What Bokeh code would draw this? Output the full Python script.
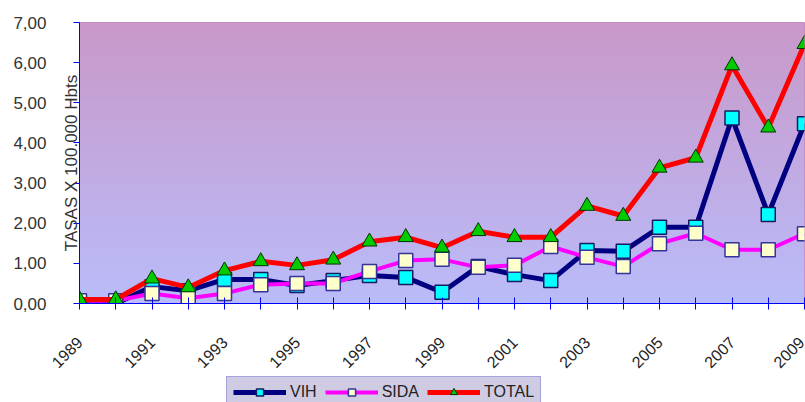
import numpy as np
from bokeh.plotting import figure
from bokeh.layouts import column
from bokeh.models import Range1d, FixedTicker, LinearAxis, Legend, LegendItem
from bokeh.embed import file_html
from bokeh.resources import INLINE

years = list(range(1989, 2010))
vih = [0.0, 0.0, 0.42, 0.32, 0.60, 0.60, 0.45, 0.57, 0.70, 0.65, 0.28, 0.92,
       0.72, 0.57, 1.32, 1.30, 1.90, 1.90, 4.62, 2.22, 4.48]
sida = [0.07, 0.07, 0.25, 0.13, 0.25, 0.47, 0.50, 0.50, 0.80, 1.07, 1.10, 0.90,
        0.95, 1.42, 1.15, 0.92, 1.49, 1.75, 1.34, 1.34, 1.74]
total = [0.10, 0.10, 0.62, 0.40, 0.82, 1.05, 0.95, 1.09, 1.54, 1.65, 1.39, 1.80,
         1.65, 1.65, 2.43, 2.18, 3.38, 3.63, 5.93, 4.38, 6.46]
x_tick_labels = {y: (str(y) if (y - years[0]) % 2 == 0 else "") for y in years}
y_ticks = [0, 1, 2, 3, 4, 5, 6, 7]
y_tick_labels = ["0,00", "1,00", "2,00", "3,00", "4,00", "5,00", "6,00", "7,00"]
y_title = "TASAS X 100.000 Hbts"
names = ["VIH", "SIDA", "TOTAL"]

FONT = "Liberation Sans"
W = 805
LEFT, RIGHT, TOP = 79, 1, 22
H_LEG = 28

p = figure(frame_width=W - LEFT - RIGHT, frame_height=281, output_backend="svg", toolbar_location=None,
           x_range=Range1d(years[0], years[-1]), y_range=Range1d(y_ticks[0], y_ticks[-1]),
           min_border_left=LEFT, min_border_right=RIGHT, min_border_top=TOP, min_border_bottom=0)
p.background_fill_color = "white"
p.border_fill_color = "white"
p.outline_line_color = "#c08ac0"

# gradient background
n = 64
top = np.array([0xC9, 0x99, 0xC9], dtype=float)
bot = np.array([0xBA, 0xBC, 0xFA], dtype=float)
img = np.empty((n, 1), dtype=np.uint32)
view = img.view(dtype=np.uint8).reshape((n, 1, 4))
for i in range(n):
    t = i / (n - 1)
    c = bot * (1 - t) + top * t
    view[i, 0, 0] = int(c[0]); view[i, 0, 1] = int(c[1]); view[i, 0, 2] = int(c[2]); view[i, 0, 3] = 255
p.image_rgba(image=[img], x=years[0], y=y_ticks[0], dw=years[-1] - years[0], dh=y_ticks[-1] - y_ticks[0])

# grid
p.xgrid.grid_line_color = None
p.ygrid.ticker = FixedTicker(ticks=y_ticks[1:-1])
p.ygrid.grid_line_color = "#222222"
p.ygrid.grid_line_dash = "3 2"
p.ygrid.grid_line_width = 1

# series
line_styles = [dict(line_color="#000080", line_width=5),
               dict(line_color="#FF00FF", line_width=4),
               dict(line_color="#FF0000", line_width=5)]
marker_styles = [dict(marker="square", size=14, fill_color="#00FFFF", line_color="#1a1a60", line_width=1.5),
                 dict(marker="square", size=14, fill_color="#FFFFCC", line_color="#333399", line_width=1.5),
                 dict(marker="triangle", size=15, fill_color="#00CC00", line_color="#003300", line_width=1)]
for ys, ls, ms in zip([vih, sida, total], line_styles, marker_styles):
    p.line(years, ys, **ls)
    p.scatter(years, ys, **ms)

# x axis with rotated year labels
xa = p.xaxis[0]
xa.ticker = FixedTicker(ticks=years)
xa.major_label_overrides = x_tick_labels
xa.major_label_orientation = np.pi / 4
xa.major_label_text_font = FONT
xa.major_label_text_font_size = "16px"
xa.major_label_text_color = "#222222"
xa.major_label_standoff = 30
xa.axis_line_color = "#0000FF"
xa.major_tick_line_color = "#0000FF"
xa.major_tick_in = 6
xa.major_tick_out = 6
xa.minor_tick_line_color = None

# inner y axis: line, ticks, title
ya = p.yaxis[0]
ya.ticker = FixedTicker(ticks=y_ticks)
ya.axis_line_color = "#0000FF"
ya.major_tick_line_color = "#0000FF"
ya.major_tick_in = 0
ya.major_tick_out = 6
ya.minor_tick_line_color = None
ya.major_label_overrides = {t: " " for t in y_ticks}
ya.major_label_text_font_size = "1px"
ya.major_label_standoff = 0
ya.axis_label = y_title
ya.axis_label_text_font = FONT
ya.axis_label_text_font_size = "17px"
ya.axis_label_text_font_style = "normal"
ya.axis_label_text_color = "#333333"
ya.axis_label_standoff = -11

# outer y axis: labels
ya2 = LinearAxis(ticker=FixedTicker(ticks=y_ticks),
                 major_label_overrides={t: s for t, s in zip(y_ticks, y_tick_labels)})
ya2.axis_line_color = None
ya2.major_tick_line_color = None
ya2.minor_tick_line_color = None
ya2.major_tick_in = 0
ya2.major_tick_out = 0
ya2.major_label_standoff = 13
ya2.major_label_text_font = FONT
ya2.major_label_text_font_size = "17px"
ya2.major_label_text_color = "#333333"
p.add_layout(ya2, "left")

# legend strip below
p2 = figure(width=W, height=H_LEG, output_backend="svg", toolbar_location=None,
            x_range=Range1d(years[0], years[-1]), y_range=Range1d(0, H_LEG),
            x_axis_location=None, y_axis_location=None,
            min_border_left=LEFT, min_border_right=RIGHT, min_border_top=0, min_border_bottom=0)
p2.grid.visible = False
p2.outline_line_color = None
p2.background_fill_color = "white"
p2.border_fill_color = "white"

items = []
for name, ls, ms in zip(names, line_styles, marker_styles):
    # legend proxies, kept outside the visible y range
    r1 = p2.line([years[0], years[1]], [-1000, -1000], **ls)
    r2 = p2.scatter([years[0]], [-1000], **ms)
    items.append(LegendItem(label=name, renderers=[r1, r2]))
legend = Legend(items=items, orientation="horizontal", location=(226 - LEFT, H_LEG - 32))
legend.background_fill_color = "#cfcbe3"
legend.background_fill_alpha = 1.0
legend.border_line_color = "#7b7bd6"
legend.border_line_width = 1
legend.label_text_font = FONT
legend.label_text_font_size = "16px"
legend.label_text_color = "#222222"
legend.glyph_width = 53
legend.glyph_height = 18
legend.label_standoff = 4
legend.spacing = 8
legend.padding = 6
legend.margin = 0
p2.add_layout(legend, "center")

layout = column(p, p2, spacing=0)
open("out.html", "w").write(file_html(layout, INLINE))
